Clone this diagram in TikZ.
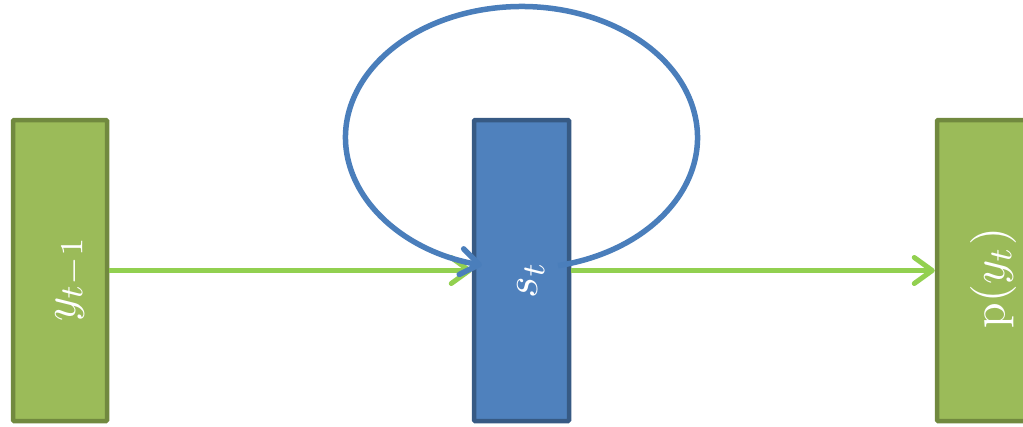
\documentclass[tikz,border=0pt]{standalone}
\usetikzlibrary{arrows.meta}
\definecolor{boxgreen}{HTML}{9BBB59}
\definecolor{boxgreenedge}{HTML}{71893F}
\definecolor{boxblue}{HTML}{4F81BD}
\definecolor{loopblue}{HTML}{4A7EBB}
\definecolor{flowgreen}{HTML}{92D050}
\begin{document}
\begin{tikzpicture}[x=1pt,y=-1pt,
  gbox/.style={draw=boxgreenedge,fill=boxgreen,line width=4.5pt,rectangle,inner sep=0pt,
    minimum width=94pt,minimum height=301pt,rounded corners=1pt},
  bbox/.style={draw=boxblue!70!black,fill=boxblue,line width=4.5pt,rectangle,inner sep=0pt,
    minimum width=95pt,minimum height=301pt,rounded corners=1pt},
  lbl/.style={text=white,rotate=90,inner sep=0pt,scale=4.6},
  flow/.style={draw=flowgreen,line width=5pt,-{Straight Barb[length=18pt,width=26pt,round]}},
  loopline/.style={draw=loopblue,line width=5.5pt,-{Straight Barb[length=18pt,width=26pt,round]}}
]
\useasboundingbox (0,0) rectangle (1023,426);
\node[gbox] (L) at (60,270.5) {};
\node[bbox] (B) at (521.5,270.5) {};
\node[gbox] (R) at (984,270.5) {};
\node[lbl] (lL) at (71,279) {$y_{t-1}$};
\node[lbl] (lB) at (531,280) {$s_t$};
\node[lbl] (lR) at (993,278) {$\mathrm{p}(y_t)$};
\draw[flow] (L.east) -- (B.west);
\draw[flow] (B.east) -- (R.west);
\coordinate (c) at (521.5,137.5);
\draw[loopline] ([shift={(-78:176pt and 131pt)}]c) arc[start angle=-78,end angle=257,x radius=176pt,y radius=131pt];
\end{tikzpicture}
\end{document}
